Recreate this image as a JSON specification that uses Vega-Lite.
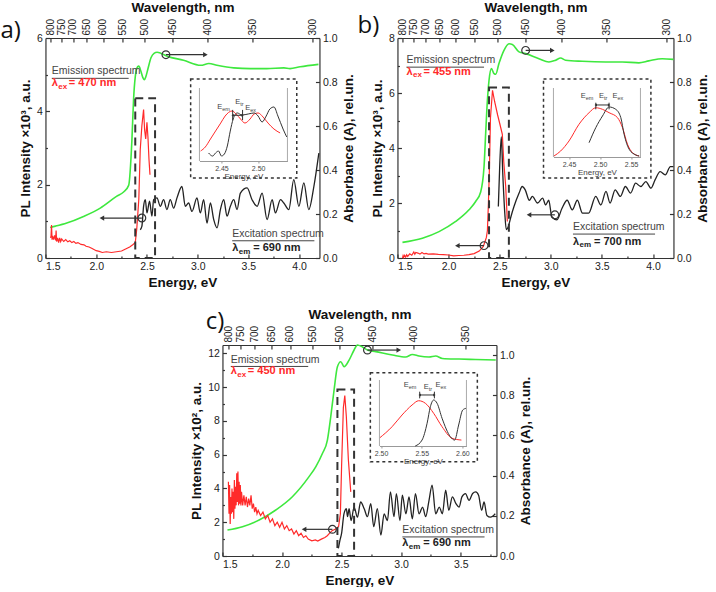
{
"$schema": "https://vega.github.io/schema/vega-lite/v6.json",
"padding": {"left": 0, "top": 0, "right": 2, "bottom": 0},
"background": "white",
"config": {
 "view": {"stroke": null},
 "font": "Liberation Sans",
 "axis": {"labelFont": "Liberation Sans", "titleFont": "Liberation Sans", "labelFontSize": 10.5, "titleFontSize": 13.5, "titleFontWeight": "bold", "labelColor": "#222", "titleColor": "#111", "domainColor": "#333", "tickColor": "#333", "grid": false, "tickSize": -4, "labelPadding": 7, "domainWidth": 1.2, "tickWidth": 1.2}
},
"datasets": {
 "A_abs": [{"E":1.546,"v":0.139},{"E":1.6,"v":0.145},{"E":1.71,"v":0.159},{"E":1.875,"v":0.189},{"E":2.04,"v":0.227},{"E":2.2,"v":0.28},{"E":2.27,"v":0.30},{"E":2.32,"v":0.33},{"E":2.352,"v":0.536},{"E":2.368,"v":0.718},{"E":2.385,"v":0.823},{"E":2.408,"v":0.869},{"E":2.42,"v":0.872},{"E":2.44,"v":0.85},{"E":2.46,"v":0.82},{"E":2.475,"v":0.81},{"E":2.49,"v":0.825},{"E":2.51,"v":0.86},{"E":2.54,"v":0.91},{"E":2.57,"v":0.93},{"E":2.6,"v":0.935},{"E":2.64,"v":0.93},{"E":2.7,"v":0.917},{"E":2.86,"v":0.899},{"E":3.03,"v":0.876},{"E":3.11,"v":0.884},{"E":3.19,"v":0.876},{"E":3.355,"v":0.864},{"E":3.52,"v":0.861},{"E":3.68,"v":0.861},{"E":3.85,"v":0.864},{"E":3.91,"v":0.861},{"E":4.01,"v":0.869},{"E":4.19,"v":0.88}],
 "A_em": [{"E":1.55,"v":0.55},{"E":1.555,"v":0.6},{"E":1.56,"v":0.9},{"E":1.565,"v":0.5},{"E":1.57,"v":0.6},{"E":1.58,"v":0.5},{"E":1.59,"v":0.62},{"E":1.6,"v":0.48},{"E":1.605,"v":0.75},{"E":1.61,"v":0.45},{"E":1.62,"v":0.55},{"E":1.63,"v":0.42},{"E":1.64,"v":0.55},{"E":1.65,"v":0.45},{"E":1.66,"v":0.52},{"E":1.68,"v":0.45},{"E":1.7,"v":0.5},{"E":1.72,"v":0.44},{"E":1.74,"v":0.47},{"E":1.76,"v":0.42},{"E":1.78,"v":0.45},{"E":1.8,"v":0.4},{"E":1.82,"v":0.42},{"E":1.85,"v":0.37},{"E":1.88,"v":0.36},{"E":1.9,"v":0.32},{"E":1.93,"v":0.3},{"E":1.96,"v":0.26},{"E":2.0,"v":0.2},{"E":2.03,"v":0.18},{"E":2.06,"v":0.15},{"E":2.1,"v":0.17},{"E":2.15,"v":0.15},{"E":2.2,"v":0.17},{"E":2.25,"v":0.19},{"E":2.3,"v":0.26},{"E":2.33,"v":0.3},{"E":2.36,"v":0.36},{"E":2.385,"v":0.42},{"E":2.4,"v":0.8},{"E":2.42,"v":1.6},{"E":2.434,"v":2.95},{"E":2.45,"v":3.6},{"E":2.467,"v":4.05},{"E":2.477,"v":3.5},{"E":2.488,"v":3.25},{"E":2.5,"v":3.7},{"E":2.51,"v":3.3},{"E":2.52,"v":2.7},{"E":2.53,"v":2.27}],
 "A_ex": [{"E":2.434,"v":0.77},{"E":2.45,"v":0.86},{"E":2.467,"v":1.41},{"E":2.484,"v":1.59},{"E":2.5,"v":1.23},{"E":2.526,"v":1.55},{"E":2.549,"v":1.14},{"E":2.566,"v":1.59},{"E":2.599,"v":1.64},{"E":2.632,"v":1.41},{"E":2.664,"v":1.59},{"E":2.697,"v":1.32},{"E":2.73,"v":1.59},{"E":2.763,"v":1.36},{"E":2.796,"v":1.64},{"E":2.845,"v":1.95},{"E":2.878,"v":1.41},{"E":2.911,"v":1.5},{"E":2.944,"v":1.27},{"E":2.993,"v":1.64},{"E":3.026,"v":1.23},{"E":3.059,"v":1.59},{"E":3.092,"v":0.95},{"E":3.125,"v":1.5},{"E":3.158,"v":1.05},{"E":3.191,"v":0.82},{"E":3.224,"v":1.32},{"E":3.257,"v":1.59},{"E":3.289,"v":1.14},{"E":3.322,"v":1.41},{"E":3.355,"v":1.59},{"E":3.388,"v":1.32},{"E":3.421,"v":1.77},{"E":3.487,"v":1.91},{"E":3.536,"v":1.59},{"E":3.586,"v":1.41},{"E":3.635,"v":1.77},{"E":3.684,"v":1.05},{"E":3.734,"v":1.59},{"E":3.766,"v":1.23},{"E":3.816,"v":1.59},{"E":3.849,"v":1.5},{"E":3.898,"v":1.32},{"E":3.947,"v":2.14},{"E":3.997,"v":1.41},{"E":4.046,"v":2.05},{"E":4.095,"v":1.32},{"E":4.145,"v":1.95},{"E":4.194,"v":2.86}],
 "A_box": [{"x1":2.385,"x2":2.58,"y1":0,"y2":4.36}],
 "A_arr": [{"x":2.687,"x2":3.076,"y":5.545,"dir":"right"},{"x":2.45,"x2":2.056,"y":1.09,"dir":"left"}],
 "A_head": [{"x":1.5625,"y":5.09,"t":"Emission spectrum","u":4.9,"x2":2.32},{"x":3.34,"y":0.66,"t":"Excitation spectrum","u":0.47,"x2":4.15}],
 "A_lam": [{"x":1.5625,"y":4.77,"sub":"ex","rest":"= 470 nm","kind":"em"},{"x":3.34,"y":0.27,"sub":"em","rest":"= 690 nm","kind":"ex"}],
 "A_iem": [{"E":2.4216,"v":0.137},{"E":2.428,"v":0.192},{"E":2.435,"v":0.301},{"E":2.442,"v":0.411},{"E":2.449,"v":0.52},{"E":2.455,"v":0.616},{"E":2.4645,"v":0.685},{"E":2.47,"v":0.644},{"E":2.476,"v":0.575},{"E":2.482,"v":0.52},{"E":2.489,"v":0.575},{"E":2.4946,"v":0.644},{"E":2.5,"v":0.658},{"E":2.5067,"v":0.603},{"E":2.5135,"v":0.52},{"E":2.5216,"v":0.438},{"E":2.53,"v":0.384}],
 "A_iex": [{"E":2.4324,"v":0.11},{"E":2.438,"v":0.068},{"E":2.442,"v":0.11},{"E":2.446,"v":0.137},{"E":2.45,"v":0.068},{"E":2.454,"v":0.096},{"E":2.458,"v":0.205},{"E":2.462,"v":0.41},{"E":2.466,"v":0.575},{"E":2.4716,"v":0.658},{"E":2.478,"v":0.63},{"E":2.4865,"v":0.644},{"E":2.4946,"v":0.658},{"E":2.5,"v":0.616},{"E":2.5054,"v":0.534},{"E":2.511,"v":0.616},{"E":2.516,"v":0.712},{"E":2.5216,"v":0.74},{"E":2.527,"v":0.616},{"E":2.534,"v":0.438},{"E":2.539,"v":0.329}],
 "A_ifr": [{"x":2.42},{"x":2.54}],
 "A_ibox": [{"x1":2.408,"x2":2.5527,"y1":-0.233,"y2":1.123}],
 "A_itk": [{"x":2.4653,"y1":0.56,"y2":0.7},{"x":2.4788,"y1":0.56,"y2":0.7}],
 "A_iarr": [{"x1":2.4653,"x2":2.4788,"y":0.626}],
 "A_ihd": [{"x":2.4653,"y":0.626,"dir":"left"},{"x":2.4788,"y":0.626,"dir":"right"}],
 "A_ilab": [{"x":2.4442,"y":0.74,"sub":"em"},{"x":2.4689,"y":0.81,"sub":"tr"},{"x":2.4824,"y":0.73,"sub":"ex"}],

 "B_abs": [{"E":1.549,"v":0.071},{"E":1.744,"v":0.09},{"E":1.907,"v":0.12},{"E":2.07,"v":0.166},{"E":2.2,"v":0.219},{"E":2.265,"v":0.257},{"E":2.314,"v":0.3},{"E":2.347,"v":0.415},{"E":2.363,"v":0.566},{"E":2.38,"v":0.717},{"E":2.396,"v":0.808},{"E":2.419,"v":0.861},{"E":2.445,"v":0.838},{"E":2.461,"v":0.835},{"E":2.493,"v":0.884},{"E":2.542,"v":0.944},{"E":2.591,"v":0.974},{"E":2.624,"v":0.971},{"E":2.689,"v":0.937},{"E":2.754,"v":0.929},{"E":2.884,"v":0.906},{"E":2.982,"v":0.891},{"E":3.047,"v":0.899},{"E":3.096,"v":0.909},{"E":3.145,"v":0.899},{"E":3.308,"v":0.894},{"E":3.536,"v":0.891},{"E":3.699,"v":0.891},{"E":3.862,"v":0.887},{"E":3.959,"v":0.896},{"E":4.09,"v":0.906},{"E":4.2,"v":0.903}],
 "B_em": [{"E":1.55,"v":0.0},{"E":1.555,"v":0.08},{"E":1.56,"v":0.02},{"E":1.57,"v":0.1},{"E":1.58,"v":0.03},{"E":1.59,"v":0.12},{"E":1.6,"v":0.06},{"E":1.62,"v":0.15},{"E":1.64,"v":0.1},{"E":1.66,"v":0.22},{"E":1.67,"v":0.14},{"E":1.68,"v":0.2},{"E":1.7,"v":0.18},{"E":1.72,"v":0.14},{"E":1.74,"v":0.2},{"E":1.76,"v":0.15},{"E":1.78,"v":0.17},{"E":1.8,"v":0.14},{"E":1.85,"v":0.15},{"E":1.9,"v":0.13},{"E":1.95,"v":0.12},{"E":2.0,"v":0.11},{"E":2.05,"v":0.08},{"E":2.1,"v":0.09},{"E":2.15,"v":0.1},{"E":2.2,"v":0.12},{"E":2.25,"v":0.16},{"E":2.3,"v":0.25},{"E":2.34,"v":0.42},{"E":2.37,"v":0.75},{"E":2.38,"v":1.0},{"E":2.39,"v":2.0},{"E":2.4,"v":3.3},{"E":2.41,"v":5.1},{"E":2.43,"v":6.1},{"E":2.45,"v":5.7},{"E":2.48,"v":5.2},{"E":2.5,"v":4.9},{"E":2.526,"v":4.5},{"E":2.54,"v":3.5},{"E":2.559,"v":2.6},{"E":2.575,"v":1.33}],
 "B_ex": [{"E":2.487,"v":1.87},{"E":2.5,"v":3.3},{"E":2.516,"v":4.4},{"E":2.53,"v":3.1},{"E":2.55,"v":1.63},{"E":2.565,"v":1.03},{"E":2.585,"v":1.15},{"E":2.61,"v":1.5},{"E":2.64,"v":1.87},{"E":2.69,"v":2.36},{"E":2.72,"v":2.6},{"E":2.75,"v":2.48},{"E":2.79,"v":2.1},{"E":2.82,"v":2.24},{"E":2.87,"v":2.0},{"E":2.92,"v":2.18},{"E":2.95,"v":1.93},{"E":2.98,"v":2.1},{"E":3.01,"v":1.5},{"E":3.06,"v":1.39},{"E":3.11,"v":1.81},{"E":3.16,"v":2.1},{"E":3.21,"v":1.75},{"E":3.26,"v":2.1},{"E":3.31,"v":1.63},{"E":3.37,"v":1.63},{"E":3.44,"v":2.24},{"E":3.49,"v":1.93},{"E":3.54,"v":2.42},{"E":3.58,"v":2.0},{"E":3.63,"v":2.48},{"E":3.68,"v":2.24},{"E":3.73,"v":2.6},{"E":3.78,"v":2.36},{"E":3.83,"v":2.72},{"E":3.88,"v":2.6},{"E":3.93,"v":2.78},{"E":3.98,"v":2.54},{"E":4.02,"v":2.84},{"E":4.07,"v":3.14},{"E":4.12,"v":3.02},{"E":4.17,"v":3.32},{"E":4.2,"v":3.32}],
 "B_box": [{"x1":2.396,"x2":2.59,"y1":0,"y2":6.2}],
 "B_arr": [{"x":2.754,"x2":3.015,"y":7.55,"dir":"right"},{"x":2.347,"x2":2.086,"y":0.45,"dir":"left"},{"x":3.04,"x2":2.787,"y":1.57,"dir":"left"}],
 "B_head": [{"x":1.588,"y":7.19,"t":"Emission spectrum","u":6.94,"x2":2.347},{"x":3.217,"y":1.12,"t":"Excitation spectrum","u":0.87,"x2":4.02}],
 "B_lam": [{"x":1.588,"y":6.77,"sub":"ex","rest":"= 455 nm","kind":"em"},{"x":3.217,"y":0.6,"sub":"em","rest":"= 700 nm","kind":"ex"}],
 "B_iem": [{"E":2.4258,"v":0.014},{"E":2.4366,"v":0.087},{"E":2.45,"v":0.232},{"E":2.4661,"v":0.474},{"E":2.4823,"v":0.642},{"E":2.4931,"v":0.714},{"E":2.5039,"v":0.691},{"E":2.5145,"v":0.642},{"E":2.5281,"v":0.57},{"E":2.5361,"v":0.425},{"E":2.5442,"v":0.184},{"E":2.5523,"v":0.062},{"E":2.5629,"v":0.014}],
 "B_iex": [{"E":2.4823,"v":0.207},{"E":2.4931,"v":0.425},{"E":2.5039,"v":0.594},{"E":2.5145,"v":0.725},{"E":2.5253,"v":0.691},{"E":2.5334,"v":0.57},{"E":2.5387,"v":0.329},{"E":2.5468,"v":0.112},{"E":2.5576,"v":0.029},{"E":2.5629,"v":0.014}],
 "B_ifr": [{"x":2.425},{"x":2.565}],
 "B_ibox": [{"x1":2.409,"x2":2.5818,"y1":-0.304,"y2":1.13}],
 "B_itk": [{"x":2.4931,"y1":0.691,"y2":0.787},{"x":2.5145,"y1":0.691,"y2":0.787}],
 "B_iarr": [{"x1":2.4931,"x2":2.5145,"y":0.754}],
 "B_ihd": [{"x":2.4931,"y":0.754,"dir":"left"},{"x":2.5145,"y":0.754,"dir":"right"}],
 "B_ilab": [{"x":2.4689,"y":0.884,"sub":"em"},{"x":2.4984,"y":0.884,"sub":"tr"},{"x":2.52,"y":0.884,"sub":"ex"}],

 "C_abs": [{"E":1.542,"v":0.129},{"E":1.668,"v":0.146},{"E":1.808,"v":0.179},{"E":1.948,"v":0.229},{"E":2.087,"v":0.295},{"E":2.227,"v":0.395},{"E":2.283,"v":0.444},{"E":2.339,"v":0.51},{"E":2.381,"v":0.577},{"E":2.409,"v":0.693},{"E":2.437,"v":0.826},{"E":2.465,"v":0.942},{"E":2.493,"v":0.967},{"E":2.521,"v":0.942},{"E":2.563,"v":0.975},{"E":2.605,"v":1.025},{"E":2.633,"v":1.05},{"E":2.675,"v":1.04},{"E":2.717,"v":1.025},{"E":2.787,"v":1.017},{"E":2.927,"v":1.0},{"E":3.038,"v":0.99},{"E":3.094,"v":1.003},{"E":3.15,"v":0.995},{"E":3.234,"v":0.99},{"E":3.29,"v":0.995},{"E":3.346,"v":0.983},{"E":3.486,"v":0.98},{"E":3.626,"v":0.978},{"E":3.794,"v":0.975}],
 "C_em": [{"E":1.55,"v":4.4},{"E":1.555,"v":2.5},{"E":1.56,"v":4.2},{"E":1.565,"v":1.9},{"E":1.57,"v":3.5},{"E":1.575,"v":2.5},{"E":1.58,"v":4.0},{"E":1.585,"v":2.6},{"E":1.59,"v":3.8},{"E":1.595,"v":2.2},{"E":1.6,"v":4.5},{"E":1.605,"v":2.8},{"E":1.61,"v":4.1},{"E":1.615,"v":3.0},{"E":1.62,"v":4.9},{"E":1.625,"v":3.2},{"E":1.63,"v":5.0},{"E":1.635,"v":3.0},{"E":1.64,"v":4.4},{"E":1.645,"v":3.1},{"E":1.65,"v":4.2},{"E":1.655,"v":3.0},{"E":1.66,"v":3.8},{"E":1.67,"v":3.0},{"E":1.68,"v":3.6},{"E":1.69,"v":3.0},{"E":1.7,"v":3.5},{"E":1.71,"v":2.9},{"E":1.72,"v":3.4},{"E":1.73,"v":3.0},{"E":1.74,"v":3.6},{"E":1.75,"v":2.8},{"E":1.76,"v":3.1},{"E":1.77,"v":2.6},{"E":1.78,"v":2.9},{"E":1.79,"v":2.5},{"E":1.8,"v":2.7},{"E":1.82,"v":2.4},{"E":1.84,"v":2.6},{"E":1.86,"v":2.2},{"E":1.88,"v":2.4},{"E":1.9,"v":2.0},{"E":1.92,"v":2.2},{"E":1.94,"v":1.8},{"E":1.96,"v":2.0},{"E":1.98,"v":1.7},{"E":2.0,"v":2.0},{"E":2.02,"v":1.6},{"E":2.04,"v":1.8},{"E":2.06,"v":1.5},{"E":2.08,"v":1.6},{"E":2.1,"v":1.3},{"E":2.12,"v":1.5},{"E":2.14,"v":1.2},{"E":2.16,"v":1.35},{"E":2.18,"v":1.1},{"E":2.2,"v":1.2},{"E":2.22,"v":1.0},{"E":2.25,"v":0.9},{"E":2.28,"v":0.95},{"E":2.3,"v":0.88},{"E":2.33,"v":1.0},{"E":2.36,"v":1.1},{"E":2.38,"v":1.2},{"E":2.4,"v":1.35},{"E":2.42,"v":1.5},{"E":2.45,"v":1.6},{"E":2.475,"v":1.75},{"E":2.49,"v":2.5},{"E":2.5,"v":5.3},{"E":2.515,"v":8.8},{"E":2.527,"v":9.5},{"E":2.54,"v":8.25},{"E":2.557,"v":5.7},{"E":2.577,"v":3.8}],
 "C_ex": [{"E":2.473,"v":0.45},{"E":2.487,"v":0.95},{"E":2.5,"v":1.34},{"E":2.52,"v":2.5},{"E":2.54,"v":2.8},{"E":2.55,"v":2.33},{"E":2.563,"v":2.8},{"E":2.58,"v":2.1},{"E":2.605,"v":2.9},{"E":2.633,"v":2.3},{"E":2.66,"v":3.2},{"E":2.69,"v":2.8},{"E":2.717,"v":2.33},{"E":2.745,"v":3.1},{"E":2.77,"v":1.74},{"E":2.8,"v":2.8},{"E":2.83,"v":1.24},{"E":2.857,"v":2.5},{"E":2.885,"v":2.1},{"E":2.91,"v":3.8},{"E":2.94,"v":2.33},{"E":2.96,"v":3.7},{"E":2.99,"v":2.1},{"E":3.01,"v":3.6},{"E":3.04,"v":2.5},{"E":3.066,"v":3.5},{"E":3.094,"v":2.2},{"E":3.12,"v":3.7},{"E":3.15,"v":2.5},{"E":3.18,"v":2.9},{"E":3.206,"v":2.33},{"E":3.234,"v":3.3},{"E":3.26,"v":4.2},{"E":3.29,"v":2.5},{"E":3.32,"v":2.9},{"E":3.346,"v":2.5},{"E":3.374,"v":3.9},{"E":3.4,"v":2.7},{"E":3.43,"v":3.5},{"E":3.46,"v":3.1},{"E":3.486,"v":2.9},{"E":3.51,"v":3.5},{"E":3.54,"v":3.7},{"E":3.57,"v":3.3},{"E":3.6,"v":3.7},{"E":3.626,"v":3.8},{"E":3.65,"v":3.6},{"E":3.676,"v":2.7},{"E":3.696,"v":3.2},{"E":3.72,"v":2.4},{"E":3.75,"v":2.3},{"E":3.79,"v":2.5}],
 "C_box": [{"x1":2.465,"x2":2.605,"y1":0,"y2":9.87}],
 "C_arr": [{"x":2.717,"x2":2.98,"y":12.2,"dir":"right"},{"x":2.423,"x2":2.185,"y":1.58,"dir":"left"}],
 "C_head": [{"x":1.57,"y":11.64,"t":"Emission spectrum","u":11.23,"x2":2.22},{"x":3.01,"y":1.54,"t":"Excitation spectrum","u":1.13,"x2":3.7}],
 "C_lam": [{"x":1.57,"y":10.95,"sub":"ex","rest":"= 450 nm","kind":"em"},{"x":3.01,"y":0.75,"sub":"em","rest":"= 690 nm","kind":"ex"}],
 "C_iem": [{"E":2.498,"v":0.12},{"E":2.5135,"v":0.292},{"E":2.5258,"v":0.47},{"E":2.5381,"v":0.621},{"E":2.5462,"v":0.686},{"E":2.5545,"v":0.647},{"E":2.5647,"v":0.495},{"E":2.575,"v":0.292},{"E":2.5873,"v":0.117},{"E":2.5988,"v":0.09}],
 "C_iex": [{"E":2.542,"v":0.0},{"E":2.5504,"v":0.09},{"E":2.5566,"v":0.344},{"E":2.5606,"v":0.595},{"E":2.5647,"v":0.697},{"E":2.5689,"v":0.647},{"E":2.575,"v":0.42},{"E":2.5852,"v":0.141},{"E":2.5905,"v":0.09},{"E":2.5954,"v":0.318},{"E":2.6004,"v":0.545},{"E":2.6045,"v":0.571}],
 "C_ifr": [{"x":2.498},{"x":2.605}],
 "C_ibox": [{"x1":2.4868,"x2":2.6184,"y1":-0.238,"y2":1.11}],
 "C_itk": [{"x":2.5475,"y1":0.722,"y2":0.823},{"x":2.5656,"y1":0.722,"y2":0.823}],
 "C_iarr": [{"x1":2.5475,"x2":2.5656,"y":0.773}],
 "C_ihd": [{"x":2.5475,"y":0.773,"dir":"left"},{"x":2.5656,"y":0.773,"dir":"right"}],
 "C_ilab": [{"x":2.5278,"y":0.924,"sub":"em"},{"x":2.5524,"y":0.889,"sub":"tr"},{"x":2.5668,"y":0.924,"sub":"ex"}]
},
"center": true,
"spacing": 18,
"vconcat": [
{"hconcat": [
{
"width": 274, "height": 220,
"resolve": {"scale": {"x": "independent", "y": "independent"}},
"layer": [
 {"data": {"name": "A_abs"}, "mark": {"type": "line", "color": "#3ee83e", "strokeWidth": 1.6, "interpolate": "monotone"},
  "encoding": {"x": {"field": "E", "type": "quantitative", "scale": {"domain": [1.5, 4.2]}, "axis": {"orient": "bottom", "title": "Energy, eV", "values": [1.5, 2, 2.5, 3, 3.5, 4], "format": ".1f"}},
   "y": {"field": "v", "type": "quantitative", "scale": {"domain": [0, 1]}, "axis": {"orient": "right", "title": "Absorbance (A), rel.un.", "values": [0, 0.2, 0.4, 0.6, 0.8, 1], "format": ".1f", "titleAngle": -90, "titleBaseline": "top"}}}},
 {"data": {"name": "A_em"}, "mark": {"type": "line", "color": "#ff2a2a", "strokeWidth": 1.2},
  "encoding": {"x": {"field": "E", "type": "quantitative", "scale": {"domain": [1.5, 4.2]}, "axis": {"orient": "top", "title": "Wavelength, nm", "values": [1.55, 1.653333, 1.771429, 1.907692, 2.066667, 2.254545, 2.48, 2.755556, 3.1, 3.542857, 4.133333], "labelExpr": "format(1240/datum.value, '.0f')", "labelAngle": -90, "labelAlign": "left", "labelBaseline": "middle", "labelFontSize": 10}},
   "y": {"field": "v", "type": "quantitative", "scale": {"domain": [0, 6]}, "axis": {"orient": "left", "title": "PL Intensity ×10³, a.u.", "values": [0, 2, 4, 6]}}}},
 {"data": {"name": "A_ex"}, "mark": {"type": "line", "color": "#222", "strokeWidth": 1.3, "interpolate": "monotone"},
  "encoding": {"x": {"field": "E", "type": "quantitative", "scale": {"domain": [1.5, 4.2]}, "axis": {"orient": "bottom", "values": [1.75, 2.25, 2.75, 3.25, 3.75], "labels": false, "domain": false, "title": null, "tickSize": -2}},
   "y": {"field": "v", "type": "quantitative", "scale": {"domain": [0, 6]}, "axis": {"orient": "left", "values": [1, 3, 5], "labels": false, "domain": false, "title": null, "tickSize": -2}}}},
 {"data": {"name": "A_box"}, "mark": {"type": "rect", "filled": false, "stroke": "#333", "strokeWidth": 2, "strokeDash": [8, 5]},
  "encoding": {"x": {"field": "x1", "type": "quantitative", "scale": {"domain": [1.5, 4.2]}, "axis": null}, "x2": {"field": "x2"}, "y": {"field": "y1", "type": "quantitative", "scale": {"domain": [0, 6]}, "axis": null}, "y2": {"field": "y2"}}},
 {"data": {"name": "A_arr"}, "mark": {"type": "rule", "color": "#333", "strokeWidth": 1.2},
  "encoding": {"x": {"field": "x", "type": "quantitative", "scale": {"domain": [1.5, 4.2]}, "axis": null}, "x2": {"field": "x2"}, "y": {"field": "y", "type": "quantitative", "scale": {"domain": [0, 6]}, "axis": null}}},
 {"data": {"name": "A_arr"}, "mark": {"type": "point", "filled": true, "color": "#333", "size": 28, "opacity": 1},
  "encoding": {"x": {"field": "x2", "type": "quantitative", "scale": {"domain": [1.5, 4.2]}, "axis": null}, "y": {"field": "y", "type": "quantitative", "scale": {"domain": [0, 6]}, "axis": null}, "shape": {"field": "dir", "type": "nominal", "scale": {"domain": ["left", "right"], "range": ["triangle-left", "triangle-right"]}, "legend": null}}},
 {"data": {"name": "A_arr"}, "mark": {"type": "point", "filled": false, "color": "#333", "size": 60, "strokeWidth": 1.2, "opacity": 1},
  "encoding": {"x": {"field": "x", "type": "quantitative", "scale": {"domain": [1.5, 4.2]}, "axis": null}, "y": {"field": "y", "type": "quantitative", "scale": {"domain": [0, 6]}, "axis": null}}},
 {"data": {"name": "A_head"}, "mark": {"type": "text", "align": "left", "baseline": "middle", "fontSize": 10.5, "color": "#444"},
  "encoding": {"x": {"field": "x", "type": "quantitative", "scale": {"domain": [1.5, 4.2]}, "axis": null}, "y": {"field": "y", "type": "quantitative", "scale": {"domain": [0, 6]}, "axis": null}, "text": {"field": "t"}}},
 {"data": {"name": "A_head"}, "mark": {"type": "rule", "color": "#444", "strokeWidth": 1},
  "encoding": {"x": {"field": "x", "type": "quantitative", "scale": {"domain": [1.5, 4.2]}, "axis": null}, "x2": {"field": "x2"}, "y": {"field": "u", "type": "quantitative", "scale": {"domain": [0, 6]}, "axis": null}}},
 {"data": {"name": "A_lam"}, "mark": {"type": "text", "align": "left", "baseline": "middle", "fontSize": 11, "fontWeight": "bold"},
  "encoding": {"x": {"field": "x", "type": "quantitative", "scale": {"domain": [1.5, 4.2]}, "axis": null}, "y": {"field": "y", "type": "quantitative", "scale": {"domain": [0, 6]}, "axis": null}, "text": {"value": "λ"}, "color": {"field": "kind", "type": "nominal", "scale": {"domain": ["em", "ex"], "range": ["#ff2a2a", "#222"]}, "legend": null}}},
 {"data": {"name": "A_lam"}, "mark": {"type": "text", "align": "left", "baseline": "middle", "fontSize": 8, "fontWeight": "bold", "dx": 6.5, "dy": 3.5},
  "encoding": {"x": {"field": "x", "type": "quantitative", "scale": {"domain": [1.5, 4.2]}, "axis": null}, "y": {"field": "y", "type": "quantitative", "scale": {"domain": [0, 6]}, "axis": null}, "text": {"field": "sub"}, "color": {"field": "kind", "type": "nominal", "scale": {"domain": ["em", "ex"], "range": ["#ff2a2a", "#222"]}, "legend": null}}},
 {"data": {"name": "A_lam"}, "transform": [{"filter": "datum.kind == 'em'"}], "mark": {"type": "text", "align": "left", "baseline": "middle", "fontSize": 11, "fontWeight": "bold", "dx": 17, "color": "#ff2a2a"},
  "encoding": {"x": {"field": "x", "type": "quantitative", "scale": {"domain": [1.5, 4.2]}, "axis": null}, "y": {"field": "y", "type": "quantitative", "scale": {"domain": [0, 6]}, "axis": null}, "text": {"field": "rest"}}},
 {"data": {"name": "A_lam"}, "transform": [{"filter": "datum.kind == 'ex'"}], "mark": {"type": "text", "align": "left", "baseline": "middle", "fontSize": 11, "fontWeight": "bold", "dx": 21, "color": "#222"},
  "encoding": {"x": {"field": "x", "type": "quantitative", "scale": {"domain": [1.5, 4.2]}, "axis": null}, "y": {"field": "y", "type": "quantitative", "scale": {"domain": [0, 6]}, "axis": null}, "text": {"field": "rest"}}},
 {"data": {"values": [{"x": 1.056, "y": 6.2, "t": "a)"}]}, "mark": {"type": "text", "align": "left", "baseline": "middle", "fontSize": 24, "font": "Open Sans", "color": "#111"},
  "encoding": {"x": {"field": "x", "type": "quantitative", "scale": {"domain": [1.5, 4.2]}, "axis": null}, "y": {"field": "y", "type": "quantitative", "scale": {"domain": [0, 6]}, "axis": null}, "text": {"field": "t"}}},
 {"data": {"name": "A_iem"}, "mark": {"type": "line", "color": "#ff2a2a", "strokeWidth": 1, "interpolate": "monotone"},
  "encoding": {"x": {"field": "E", "type": "quantitative", "scale": {"domain": [2.42, 2.54], "range": [154, 242]}, "axis": {"orient": "bottom", "offset": -97, "values": [2.45, 2.5], "format": ".2f", "title": "Energy, eV", "labelFontSize": 7, "titleFontSize": 8, "titleFontWeight": "normal", "tickSize": 2, "labelPadding": 1, "titlePadding": 1, "domainColor": "#999", "tickColor": "#999", "labelColor": "#444", "titleColor": "#444", "domainWidth": 1, "tickWidth": 1}},
   "y": {"field": "v", "type": "quantitative", "scale": {"domain": [0, 1], "range": [123, 50]}, "axis": null}}},
 {"data": {"name": "A_iex"}, "mark": {"type": "line", "color": "#333", "strokeWidth": 1, "interpolate": "monotone"},
  "encoding": {"x": {"field": "E", "type": "quantitative", "scale": {"domain": [2.42, 2.54], "range": [154, 242]}, "axis": null}, "y": {"field": "v", "type": "quantitative", "scale": {"domain": [0, 1], "range": [123, 50]}, "axis": null}}},
 {"data": {"name": "A_ifr"}, "mark": {"type": "rule", "color": "#aaa", "strokeWidth": 1},
  "encoding": {"x": {"field": "x", "type": "quantitative", "scale": {"domain": [2.42, 2.54], "range": [154, 242]}, "axis": null}, "y": {"datum": 0, "type": "quantitative", "scale": {"domain": [0, 1], "range": [123, 50]}, "axis": null}, "y2": {"datum": 1}}},
 {"data": {"name": "A_ibox"}, "mark": {"type": "rect", "filled": false, "stroke": "#333", "strokeWidth": 1.5, "strokeDash": [3, 3]},
  "encoding": {"x": {"field": "x1", "type": "quantitative", "scale": {"domain": [2.42, 2.54], "range": [154, 242]}, "axis": null}, "x2": {"field": "x2"}, "y": {"field": "y1", "type": "quantitative", "scale": {"domain": [0, 1], "range": [123, 50]}, "axis": null}, "y2": {"field": "y2"}}},
 {"data": {"name": "A_itk"}, "mark": {"type": "rule", "color": "#333", "strokeWidth": 1},
  "encoding": {"x": {"field": "x", "type": "quantitative", "scale": {"domain": [2.42, 2.54], "range": [154, 242]}, "axis": null}, "y": {"field": "y1", "type": "quantitative", "scale": {"domain": [0, 1], "range": [123, 50]}, "axis": null}, "y2": {"field": "y2"}}},
 {"data": {"name": "A_iarr"}, "mark": {"type": "rule", "color": "#333", "strokeWidth": 1},
  "encoding": {"x": {"field": "x1", "type": "quantitative", "scale": {"domain": [2.42, 2.54], "range": [154, 242]}, "axis": null}, "x2": {"field": "x2"}, "y": {"field": "y", "type": "quantitative", "scale": {"domain": [0, 1], "range": [123, 50]}, "axis": null}}},
 {"data": {"name": "A_ihd"}, "mark": {"type": "point", "filled": true, "color": "#333", "size": 8, "opacity": 1},
  "encoding": {"x": {"field": "x", "type": "quantitative", "scale": {"domain": [2.42, 2.54], "range": [154, 242]}, "axis": null}, "y": {"field": "y", "type": "quantitative", "scale": {"domain": [0, 1], "range": [123, 50]}, "axis": null}, "shape": {"field": "dir", "type": "nominal", "scale": {"domain": ["left", "right"], "range": ["triangle-left", "triangle-right"]}, "legend": null}}},
 {"data": {"name": "A_ilab"}, "mark": {"type": "text", "align": "left", "baseline": "middle", "fontSize": 7.5, "color": "#444"},
  "encoding": {"x": {"field": "x", "type": "quantitative", "scale": {"domain": [2.42, 2.54], "range": [154, 242]}, "axis": null}, "y": {"field": "y", "type": "quantitative", "scale": {"domain": [0, 1], "range": [123, 50]}, "axis": null}, "text": {"value": "E"}}},
 {"data": {"name": "A_ilab"}, "mark": {"type": "text", "align": "left", "baseline": "middle", "fontSize": 5.5, "color": "#444", "dx": 5, "dy": 2},
  "encoding": {"x": {"field": "x", "type": "quantitative", "scale": {"domain": [2.42, 2.54], "range": [154, 242]}, "axis": null}, "y": {"field": "y", "type": "quantitative", "scale": {"domain": [0, 1], "range": [123, 50]}, "axis": null}, "text": {"field": "sub"}}}
]
},
{
"width": 276, "height": 220,
"resolve": {"scale": {"x": "independent", "y": "independent"}},
"layer": [
 {"data": {"name": "B_abs"}, "mark": {"type": "line", "color": "#3ee83e", "strokeWidth": 1.6, "interpolate": "monotone"},
  "encoding": {"x": {"field": "E", "type": "quantitative", "scale": {"domain": [1.5, 4.2]}, "axis": {"orient": "bottom", "title": "Energy, eV", "values": [1.5, 2, 2.5, 3, 3.5, 4], "format": ".1f"}},
   "y": {"field": "v", "type": "quantitative", "scale": {"domain": [0, 1]}, "axis": {"orient": "right", "title": "Absorbance (A), rel.un.", "values": [0, 0.2, 0.4, 0.6, 0.8, 1], "format": ".1f", "titleAngle": -90, "titleBaseline": "top"}}}},
 {"data": {"name": "B_em"}, "mark": {"type": "line", "color": "#ff2a2a", "strokeWidth": 1.2},
  "encoding": {"x": {"field": "E", "type": "quantitative", "scale": {"domain": [1.5, 4.2]}, "axis": {"orient": "top", "title": "Wavelength, nm", "values": [1.55, 1.653333, 1.771429, 1.907692, 2.066667, 2.254545, 2.48, 2.755556, 3.1, 3.542857, 4.133333], "labelExpr": "format(1240/datum.value, '.0f')", "labelAngle": -90, "labelAlign": "left", "labelBaseline": "middle", "labelFontSize": 10}},
   "y": {"field": "v", "type": "quantitative", "scale": {"domain": [0, 8]}, "axis": {"orient": "left", "title": "PL Intensity ×10³, a.u.", "values": [0, 2, 4, 6, 8]}}}},
 {"data": {"name": "B_ex"}, "mark": {"type": "line", "color": "#222", "strokeWidth": 1.3, "interpolate": "monotone"},
  "encoding": {"x": {"field": "E", "type": "quantitative", "scale": {"domain": [1.5, 4.2]}, "axis": {"orient": "bottom", "values": [1.75, 2.25, 2.75, 3.25, 3.75], "labels": false, "domain": false, "title": null, "tickSize": -2}},
   "y": {"field": "v", "type": "quantitative", "scale": {"domain": [0, 8]}, "axis": {"orient": "left", "values": [1, 3, 5, 7], "labels": false, "domain": false, "title": null, "tickSize": -2}}}},
 {"data": {"name": "B_box"}, "mark": {"type": "rect", "filled": false, "stroke": "#333", "strokeWidth": 2, "strokeDash": [8, 5]},
  "encoding": {"x": {"field": "x1", "type": "quantitative", "scale": {"domain": [1.5, 4.2]}, "axis": null}, "x2": {"field": "x2"}, "y": {"field": "y1", "type": "quantitative", "scale": {"domain": [0, 8]}, "axis": null}, "y2": {"field": "y2"}}},
 {"data": {"name": "B_arr"}, "mark": {"type": "rule", "color": "#333", "strokeWidth": 1.2},
  "encoding": {"x": {"field": "x", "type": "quantitative", "scale": {"domain": [1.5, 4.2]}, "axis": null}, "x2": {"field": "x2"}, "y": {"field": "y", "type": "quantitative", "scale": {"domain": [0, 8]}, "axis": null}}},
 {"data": {"name": "B_arr"}, "mark": {"type": "point", "filled": true, "color": "#333", "size": 28, "opacity": 1},
  "encoding": {"x": {"field": "x2", "type": "quantitative", "scale": {"domain": [1.5, 4.2]}, "axis": null}, "y": {"field": "y", "type": "quantitative", "scale": {"domain": [0, 8]}, "axis": null}, "shape": {"field": "dir", "type": "nominal", "scale": {"domain": ["left", "right"], "range": ["triangle-left", "triangle-right"]}, "legend": null}}},
 {"data": {"name": "B_arr"}, "mark": {"type": "point", "filled": false, "color": "#333", "size": 60, "strokeWidth": 1.2, "opacity": 1},
  "encoding": {"x": {"field": "x", "type": "quantitative", "scale": {"domain": [1.5, 4.2]}, "axis": null}, "y": {"field": "y", "type": "quantitative", "scale": {"domain": [0, 8]}, "axis": null}}},
 {"data": {"name": "B_head"}, "mark": {"type": "text", "align": "left", "baseline": "middle", "fontSize": 10.5, "color": "#444"},
  "encoding": {"x": {"field": "x", "type": "quantitative", "scale": {"domain": [1.5, 4.2]}, "axis": null}, "y": {"field": "y", "type": "quantitative", "scale": {"domain": [0, 8]}, "axis": null}, "text": {"field": "t"}}},
 {"data": {"name": "B_head"}, "mark": {"type": "rule", "color": "#444", "strokeWidth": 1},
  "encoding": {"x": {"field": "x", "type": "quantitative", "scale": {"domain": [1.5, 4.2]}, "axis": null}, "x2": {"field": "x2"}, "y": {"field": "u", "type": "quantitative", "scale": {"domain": [0, 8]}, "axis": null}}},
 {"data": {"name": "B_lam"}, "mark": {"type": "text", "align": "left", "baseline": "middle", "fontSize": 11, "fontWeight": "bold"},
  "encoding": {"x": {"field": "x", "type": "quantitative", "scale": {"domain": [1.5, 4.2]}, "axis": null}, "y": {"field": "y", "type": "quantitative", "scale": {"domain": [0, 8]}, "axis": null}, "text": {"value": "λ"}, "color": {"field": "kind", "type": "nominal", "scale": {"domain": ["em", "ex"], "range": ["#ff2a2a", "#222"]}, "legend": null}}},
 {"data": {"name": "B_lam"}, "mark": {"type": "text", "align": "left", "baseline": "middle", "fontSize": 8, "fontWeight": "bold", "dx": 6.5, "dy": 3.5},
  "encoding": {"x": {"field": "x", "type": "quantitative", "scale": {"domain": [1.5, 4.2]}, "axis": null}, "y": {"field": "y", "type": "quantitative", "scale": {"domain": [0, 8]}, "axis": null}, "text": {"field": "sub"}, "color": {"field": "kind", "type": "nominal", "scale": {"domain": ["em", "ex"], "range": ["#ff2a2a", "#222"]}, "legend": null}}},
 {"data": {"name": "B_lam"}, "transform": [{"filter": "datum.kind == 'em'"}], "mark": {"type": "text", "align": "left", "baseline": "middle", "fontSize": 11, "fontWeight": "bold", "dx": 17, "color": "#ff2a2a"},
  "encoding": {"x": {"field": "x", "type": "quantitative", "scale": {"domain": [1.5, 4.2]}, "axis": null}, "y": {"field": "y", "type": "quantitative", "scale": {"domain": [0, 8]}, "axis": null}, "text": {"field": "rest"}}},
 {"data": {"name": "B_lam"}, "transform": [{"filter": "datum.kind == 'ex'"}], "mark": {"type": "text", "align": "left", "baseline": "middle", "fontSize": 11, "fontWeight": "bold", "dx": 21, "color": "#222"},
  "encoding": {"x": {"field": "x", "type": "quantitative", "scale": {"domain": [1.5, 4.2]}, "axis": null}, "y": {"field": "y", "type": "quantitative", "scale": {"domain": [0, 8]}, "axis": null}, "text": {"field": "rest"}}},
 {"data": {"values": [{"x": 1.109, "y": 8.44, "t": "b)"}]}, "mark": {"type": "text", "align": "left", "baseline": "middle", "fontSize": 24, "font": "Open Sans", "color": "#111"},
  "encoding": {"x": {"field": "x", "type": "quantitative", "scale": {"domain": [1.5, 4.2]}, "axis": null}, "y": {"field": "y", "type": "quantitative", "scale": {"domain": [0, 8]}, "axis": null}, "text": {"field": "t"}}},
 {"data": {"name": "B_iem"}, "mark": {"type": "line", "color": "#ff2a2a", "strokeWidth": 1, "interpolate": "monotone"},
  "encoding": {"x": {"field": "E", "type": "quantitative", "scale": {"domain": [2.425, 2.565], "range": [156, 243]}, "axis": {"orient": "bottom", "offset": -101, "values": [2.45, 2.5, 2.55], "format": ".2f", "title": "Energy, eV", "labelFontSize": 7, "titleFontSize": 8, "titleFontWeight": "normal", "tickSize": 2, "labelPadding": 1, "titlePadding": 1, "domainColor": "#999", "tickColor": "#999", "labelColor": "#444", "titleColor": "#444", "domainWidth": 1, "tickWidth": 1}},
   "y": {"field": "v", "type": "quantitative", "scale": {"domain": [0, 1], "range": [119, 50]}, "axis": null}}},
 {"data": {"name": "B_iex"}, "mark": {"type": "line", "color": "#333", "strokeWidth": 1, "interpolate": "monotone"},
  "encoding": {"x": {"field": "E", "type": "quantitative", "scale": {"domain": [2.425, 2.565], "range": [156, 243]}, "axis": null}, "y": {"field": "v", "type": "quantitative", "scale": {"domain": [0, 1], "range": [119, 50]}, "axis": null}}},
 {"data": {"name": "B_ifr"}, "mark": {"type": "rule", "color": "#aaa", "strokeWidth": 1},
  "encoding": {"x": {"field": "x", "type": "quantitative", "scale": {"domain": [2.425, 2.565], "range": [156, 243]}, "axis": null}, "y": {"datum": 0, "type": "quantitative", "scale": {"domain": [0, 1], "range": [119, 50]}, "axis": null}, "y2": {"datum": 1}}},
 {"data": {"name": "B_ibox"}, "mark": {"type": "rect", "filled": false, "stroke": "#333", "strokeWidth": 1.5, "strokeDash": [3, 3]},
  "encoding": {"x": {"field": "x1", "type": "quantitative", "scale": {"domain": [2.425, 2.565], "range": [156, 243]}, "axis": null}, "x2": {"field": "x2"}, "y": {"field": "y1", "type": "quantitative", "scale": {"domain": [0, 1], "range": [119, 50]}, "axis": null}, "y2": {"field": "y2"}}},
 {"data": {"name": "B_itk"}, "mark": {"type": "rule", "color": "#333", "strokeWidth": 1},
  "encoding": {"x": {"field": "x", "type": "quantitative", "scale": {"domain": [2.425, 2.565], "range": [156, 243]}, "axis": null}, "y": {"field": "y1", "type": "quantitative", "scale": {"domain": [0, 1], "range": [119, 50]}, "axis": null}, "y2": {"field": "y2"}}},
 {"data": {"name": "B_iarr"}, "mark": {"type": "rule", "color": "#333", "strokeWidth": 1},
  "encoding": {"x": {"field": "x1", "type": "quantitative", "scale": {"domain": [2.425, 2.565], "range": [156, 243]}, "axis": null}, "x2": {"field": "x2"}, "y": {"field": "y", "type": "quantitative", "scale": {"domain": [0, 1], "range": [119, 50]}, "axis": null}}},
 {"data": {"name": "B_ihd"}, "mark": {"type": "point", "filled": true, "color": "#333", "size": 8, "opacity": 1},
  "encoding": {"x": {"field": "x", "type": "quantitative", "scale": {"domain": [2.425, 2.565], "range": [156, 243]}, "axis": null}, "y": {"field": "y", "type": "quantitative", "scale": {"domain": [0, 1], "range": [119, 50]}, "axis": null}, "shape": {"field": "dir", "type": "nominal", "scale": {"domain": ["left", "right"], "range": ["triangle-left", "triangle-right"]}, "legend": null}}},
 {"data": {"name": "B_ilab"}, "mark": {"type": "text", "align": "left", "baseline": "middle", "fontSize": 7.5, "color": "#444"},
  "encoding": {"x": {"field": "x", "type": "quantitative", "scale": {"domain": [2.425, 2.565], "range": [156, 243]}, "axis": null}, "y": {"field": "y", "type": "quantitative", "scale": {"domain": [0, 1], "range": [119, 50]}, "axis": null}, "text": {"value": "E"}}},
 {"data": {"name": "B_ilab"}, "mark": {"type": "text", "align": "left", "baseline": "middle", "fontSize": 5.5, "color": "#444", "dx": 5, "dy": 2},
  "encoding": {"x": {"field": "x", "type": "quantitative", "scale": {"domain": [2.425, 2.565], "range": [156, 243]}, "axis": null}, "y": {"field": "y", "type": "quantitative", "scale": {"domain": [0, 1], "range": [119, 50]}, "axis": null}, "text": {"field": "sub"}}}
]
}
], "spacing": 2},
{
"width": 274, "height": 211,
"resolve": {"scale": {"x": "independent", "y": "independent"}},
"layer": [
 {"data": {"name": "C_abs"}, "mark": {"type": "line", "color": "#3ee83e", "strokeWidth": 1.6, "interpolate": "monotone"},
  "encoding": {"x": {"field": "E", "type": "quantitative", "scale": {"domain": [1.5, 3.8]}, "axis": {"orient": "bottom", "title": "Energy, eV", "values": [1.5, 2, 2.5, 3, 3.5], "format": ".1f"}},
   "y": {"field": "v", "type": "quantitative", "scale": {"domain": [0, 1.05]}, "axis": {"orient": "right", "title": "Absorbance (A), rel.un.", "values": [0, 0.2, 0.4, 0.6, 0.8, 1], "format": ".1f", "titleAngle": -90, "titleBaseline": "top"}}}},
 {"data": {"name": "C_em"}, "mark": {"type": "line", "color": "#ff2a2a", "strokeWidth": 1.2},
  "encoding": {"x": {"field": "E", "type": "quantitative", "scale": {"domain": [1.5, 3.8]}, "axis": {"orient": "top", "title": "Wavelength, nm", "values": [1.55, 1.653333, 1.771429, 1.907692, 2.066667, 2.254545, 2.48, 2.755556, 3.1, 3.542857], "labelExpr": "format(1240/datum.value, '.0f')", "labelAngle": -90, "labelAlign": "left", "labelBaseline": "middle", "labelFontSize": 10}},
   "y": {"field": "v", "type": "quantitative", "scale": {"domain": [0, 12.5]}, "axis": {"orient": "left", "title": "PL Intensity ×10², a.u.", "values": [0, 2, 4, 6, 8, 10, 12]}}}},
 {"data": {"name": "C_ex"}, "mark": {"type": "line", "color": "#222", "strokeWidth": 1.3, "interpolate": "monotone"},
  "encoding": {"x": {"field": "E", "type": "quantitative", "scale": {"domain": [1.5, 3.8]}, "axis": {"orient": "bottom", "values": [1.75, 2.25, 2.75, 3.25, 3.75], "labels": false, "domain": false, "title": null, "tickSize": -2}},
   "y": {"field": "v", "type": "quantitative", "scale": {"domain": [0, 12.5]}, "axis": {"orient": "left", "values": [1, 3, 5, 7, 9, 11], "labels": false, "domain": false, "title": null, "tickSize": -2}}}},
 {"data": {"name": "C_box"}, "mark": {"type": "rect", "filled": false, "stroke": "#333", "strokeWidth": 2, "strokeDash": [8, 5]},
  "encoding": {"x": {"field": "x1", "type": "quantitative", "scale": {"domain": [1.5, 3.8]}, "axis": null}, "x2": {"field": "x2"}, "y": {"field": "y1", "type": "quantitative", "scale": {"domain": [0, 12.5]}, "axis": null}, "y2": {"field": "y2"}}},
 {"data": {"name": "C_arr"}, "mark": {"type": "rule", "color": "#333", "strokeWidth": 1.2},
  "encoding": {"x": {"field": "x", "type": "quantitative", "scale": {"domain": [1.5, 3.8]}, "axis": null}, "x2": {"field": "x2"}, "y": {"field": "y", "type": "quantitative", "scale": {"domain": [0, 12.5]}, "axis": null}}},
 {"data": {"name": "C_arr"}, "mark": {"type": "point", "filled": true, "color": "#333", "size": 28, "opacity": 1},
  "encoding": {"x": {"field": "x2", "type": "quantitative", "scale": {"domain": [1.5, 3.8]}, "axis": null}, "y": {"field": "y", "type": "quantitative", "scale": {"domain": [0, 12.5]}, "axis": null}, "shape": {"field": "dir", "type": "nominal", "scale": {"domain": ["left", "right"], "range": ["triangle-left", "triangle-right"]}, "legend": null}}},
 {"data": {"name": "C_arr"}, "mark": {"type": "point", "filled": false, "color": "#333", "size": 60, "strokeWidth": 1.2, "opacity": 1},
  "encoding": {"x": {"field": "x", "type": "quantitative", "scale": {"domain": [1.5, 3.8]}, "axis": null}, "y": {"field": "y", "type": "quantitative", "scale": {"domain": [0, 12.5]}, "axis": null}}},
 {"data": {"name": "C_head"}, "mark": {"type": "text", "align": "left", "baseline": "middle", "fontSize": 10.5, "color": "#444"},
  "encoding": {"x": {"field": "x", "type": "quantitative", "scale": {"domain": [1.5, 3.8]}, "axis": null}, "y": {"field": "y", "type": "quantitative", "scale": {"domain": [0, 12.5]}, "axis": null}, "text": {"field": "t"}}},
 {"data": {"name": "C_head"}, "mark": {"type": "rule", "color": "#444", "strokeWidth": 1},
  "encoding": {"x": {"field": "x", "type": "quantitative", "scale": {"domain": [1.5, 3.8]}, "axis": null}, "x2": {"field": "x2"}, "y": {"field": "u", "type": "quantitative", "scale": {"domain": [0, 12.5]}, "axis": null}}},
 {"data": {"name": "C_lam"}, "mark": {"type": "text", "align": "left", "baseline": "middle", "fontSize": 11, "fontWeight": "bold"},
  "encoding": {"x": {"field": "x", "type": "quantitative", "scale": {"domain": [1.5, 3.8]}, "axis": null}, "y": {"field": "y", "type": "quantitative", "scale": {"domain": [0, 12.5]}, "axis": null}, "text": {"value": "λ"}, "color": {"field": "kind", "type": "nominal", "scale": {"domain": ["em", "ex"], "range": ["#ff2a2a", "#222"]}, "legend": null}}},
 {"data": {"name": "C_lam"}, "mark": {"type": "text", "align": "left", "baseline": "middle", "fontSize": 8, "fontWeight": "bold", "dx": 6.5, "dy": 3.5},
  "encoding": {"x": {"field": "x", "type": "quantitative", "scale": {"domain": [1.5, 3.8]}, "axis": null}, "y": {"field": "y", "type": "quantitative", "scale": {"domain": [0, 12.5]}, "axis": null}, "text": {"field": "sub"}, "color": {"field": "kind", "type": "nominal", "scale": {"domain": ["em", "ex"], "range": ["#ff2a2a", "#222"]}, "legend": null}}},
 {"data": {"name": "C_lam"}, "transform": [{"filter": "datum.kind == 'em'"}], "mark": {"type": "text", "align": "left", "baseline": "middle", "fontSize": 11, "fontWeight": "bold", "dx": 17, "color": "#ff2a2a"},
  "encoding": {"x": {"field": "x", "type": "quantitative", "scale": {"domain": [1.5, 3.8]}, "axis": null}, "y": {"field": "y", "type": "quantitative", "scale": {"domain": [0, 12.5]}, "axis": null}, "text": {"field": "rest"}}},
 {"data": {"name": "C_lam"}, "transform": [{"filter": "datum.kind == 'ex'"}], "mark": {"type": "text", "align": "left", "baseline": "middle", "fontSize": 11, "fontWeight": "bold", "dx": 21, "color": "#222"},
  "encoding": {"x": {"field": "x", "type": "quantitative", "scale": {"domain": [1.5, 3.8]}, "axis": null}, "y": {"field": "y", "type": "quantitative", "scale": {"domain": [0, 12.5]}, "axis": null}, "text": {"field": "rest"}}},
 {"data": {"values": [{"x": 1.36, "y": 13.86, "t": "c)"}]}, "mark": {"type": "text", "align": "left", "baseline": "middle", "fontSize": 24, "font": "Open Sans", "color": "#111"},
  "encoding": {"x": {"field": "x", "type": "quantitative", "scale": {"domain": [1.5, 3.8]}, "axis": null}, "y": {"field": "y", "type": "quantitative", "scale": {"domain": [0, 12.5]}, "axis": null}, "text": {"field": "t"}}},
 {"data": {"name": "C_iem"}, "mark": {"type": "line", "color": "#ff2a2a", "strokeWidth": 1, "interpolate": "monotone"},
  "encoding": {"x": {"field": "E", "type": "quantitative", "scale": {"domain": [2.498, 2.605], "range": [157, 244]}, "axis": {"orient": "bottom", "offset": -110, "values": [2.5, 2.55, 2.6], "format": ".2f", "title": "Energy, eV", "labelFontSize": 7, "titleFontSize": 8, "titleFontWeight": "normal", "tickSize": 2, "labelPadding": 1, "titlePadding": 1, "domainColor": "#999", "tickColor": "#999", "labelColor": "#444", "titleColor": "#444", "domainWidth": 1, "tickWidth": 1}},
   "y": {"field": "v", "type": "quantitative", "scale": {"domain": [0, 1], "range": [101, 35]}, "axis": null}}},
 {"data": {"name": "C_iex"}, "mark": {"type": "line", "color": "#333", "strokeWidth": 1, "interpolate": "monotone"},
  "encoding": {"x": {"field": "E", "type": "quantitative", "scale": {"domain": [2.498, 2.605], "range": [157, 244]}, "axis": null}, "y": {"field": "v", "type": "quantitative", "scale": {"domain": [0, 1], "range": [101, 35]}, "axis": null}}},
 {"data": {"name": "C_ifr"}, "mark": {"type": "rule", "color": "#aaa", "strokeWidth": 1},
  "encoding": {"x": {"field": "x", "type": "quantitative", "scale": {"domain": [2.498, 2.605], "range": [157, 244]}, "axis": null}, "y": {"datum": 0, "type": "quantitative", "scale": {"domain": [0, 1], "range": [101, 35]}, "axis": null}, "y2": {"datum": 1}}},
 {"data": {"name": "C_ibox"}, "mark": {"type": "rect", "filled": false, "stroke": "#333", "strokeWidth": 1.5, "strokeDash": [3, 3]},
  "encoding": {"x": {"field": "x1", "type": "quantitative", "scale": {"domain": [2.498, 2.605], "range": [157, 244]}, "axis": null}, "x2": {"field": "x2"}, "y": {"field": "y1", "type": "quantitative", "scale": {"domain": [0, 1], "range": [101, 35]}, "axis": null}, "y2": {"field": "y2"}}},
 {"data": {"name": "C_itk"}, "mark": {"type": "rule", "color": "#333", "strokeWidth": 1},
  "encoding": {"x": {"field": "x", "type": "quantitative", "scale": {"domain": [2.498, 2.605], "range": [157, 244]}, "axis": null}, "y": {"field": "y1", "type": "quantitative", "scale": {"domain": [0, 1], "range": [101, 35]}, "axis": null}, "y2": {"field": "y2"}}},
 {"data": {"name": "C_iarr"}, "mark": {"type": "rule", "color": "#333", "strokeWidth": 1},
  "encoding": {"x": {"field": "x1", "type": "quantitative", "scale": {"domain": [2.498, 2.605], "range": [157, 244]}, "axis": null}, "x2": {"field": "x2"}, "y": {"field": "y", "type": "quantitative", "scale": {"domain": [0, 1], "range": [101, 35]}, "axis": null}}},
 {"data": {"name": "C_ihd"}, "mark": {"type": "point", "filled": true, "color": "#333", "size": 8, "opacity": 1},
  "encoding": {"x": {"field": "x", "type": "quantitative", "scale": {"domain": [2.498, 2.605], "range": [157, 244]}, "axis": null}, "y": {"field": "y", "type": "quantitative", "scale": {"domain": [0, 1], "range": [101, 35]}, "axis": null}, "shape": {"field": "dir", "type": "nominal", "scale": {"domain": ["left", "right"], "range": ["triangle-left", "triangle-right"]}, "legend": null}}},
 {"data": {"name": "C_ilab"}, "mark": {"type": "text", "align": "left", "baseline": "middle", "fontSize": 7.5, "color": "#444"},
  "encoding": {"x": {"field": "x", "type": "quantitative", "scale": {"domain": [2.498, 2.605], "range": [157, 244]}, "axis": null}, "y": {"field": "y", "type": "quantitative", "scale": {"domain": [0, 1], "range": [101, 35]}, "axis": null}, "text": {"value": "E"}}},
 {"data": {"name": "C_ilab"}, "mark": {"type": "text", "align": "left", "baseline": "middle", "fontSize": 5.5, "color": "#444", "dx": 5, "dy": 2},
  "encoding": {"x": {"field": "x", "type": "quantitative", "scale": {"domain": [2.498, 2.605], "range": [157, 244]}, "axis": null}, "y": {"field": "y", "type": "quantitative", "scale": {"domain": [0, 1], "range": [101, 35]}, "axis": null}, "text": {"field": "sub"}}}
]
}
]
}
